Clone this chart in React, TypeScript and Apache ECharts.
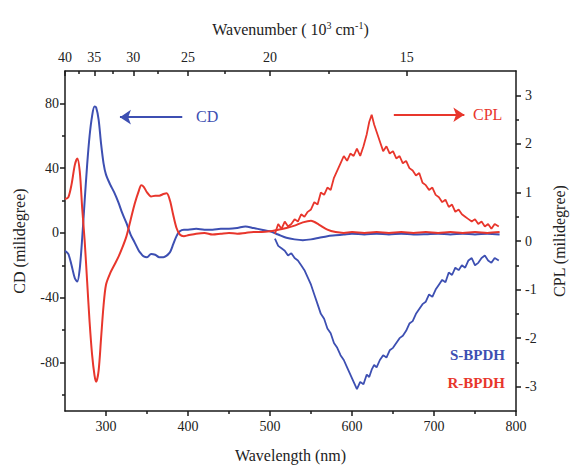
import React, { useEffect, useRef } from "react";
import * as echarts from "echarts";

// ---------- data ----------
const cdWavelength = [250,254,258,262,265,268,271,274,277,280,283,286,288,291,294,297,300,305,310,315,320,325,330,335,340,343,346,350,355,360,365,370,374,378,382,386,390,395,400,410,420,430,440,450,460,470,480,490,500,510,520,530,540,550,560,570,580,590,600,615,630,645,660,675,690,705,720,735,750,765,780];
const cdS = [-11,-13,-20,-28,-30,-22,-3,20,42,60,72,78,77.5,70,55,43,36,30,25,19,12,6,-1,-6,-11,-13,-14.5,-15,-13,-13.5,-15,-15,-14,-12,-7,-2,1,2,2,2.5,2,2,2.5,2.5,3,4,3,2,1,-1,-3,-4,-4.5,-4,-3,-2,-1.5,-1,-0.5,-1,-0.5,-1,-0.5,-1,-0.8,-0.5,-1,-0.5,-1,-0.5,-1];
const cdR = [21,22,30,42,46,38,15,-5,-30,-55,-75,-88,-92,-85,-65,-45,-32,-25,-20,-15,-9,-2,8,18,26,29.5,28.5,25,22.5,23,23,24,24.5,20,11,3,-1,-2,-1.5,-0.5,0,-1,-0.5,0,-0.5,0,0.5,0.5,1,2,3,4.5,6.5,7.5,5,2,0.5,0,0.5,0,0.5,0,0.5,0,0.5,0,0.5,0,0.5,0,0.5];

const cplWavelength = [506,510,514,518,522,526,530,534,538,542,546,550,554,558,562,566,570,574,578,582,586,590,594,598,602,606,610,614,618,621,624,627,630,634,638,642,646,650,654,658,662,666,670,674,678,682,686,690,694,698,702,706,710,714,718,722,726,730,734,738,742,746,750,754,758,762,766,770,774,779];
const cplR = [0.15,0.35,0.25,0.4,0.3,0.35,0.45,0.4,0.55,0.5,0.6,0.65,0.8,0.75,1.0,0.95,1.1,1.05,1.3,1.45,1.6,1.75,1.65,1.8,1.75,1.9,1.75,1.95,2.2,2.45,2.6,2.4,2.25,2.05,1.85,1.95,1.8,1.85,1.7,1.75,1.6,1.65,1.5,1.45,1.35,1.4,1.2,1.15,1.05,1.1,0.95,0.9,0.8,0.85,0.7,0.75,0.6,0.65,0.55,0.5,0.45,0.4,0.45,0.35,0.4,0.3,0.35,0.25,0.35,0.3];
const cplS = [0.05,-0.1,-0.15,-0.2,-0.3,-0.25,-0.35,-0.4,-0.5,-0.6,-0.75,-0.9,-1.1,-1.3,-1.5,-1.6,-1.8,-1.9,-2.1,-2.2,-2.35,-2.45,-2.6,-2.75,-2.9,-3.05,-2.9,-2.95,-2.75,-2.8,-2.65,-2.55,-2.6,-2.45,-2.35,-2.4,-2.25,-2.2,-2.1,-2.0,-1.95,-1.85,-1.7,-1.65,-1.5,-1.4,-1.3,-1.25,-1.1,-1.15,-1.0,-0.9,-0.8,-0.85,-0.65,-0.7,-0.55,-0.6,-0.5,-0.55,-0.4,-0.35,-0.5,-0.45,-0.35,-0.3,-0.4,-0.45,-0.35,-0.4];

const bottomTicks = [300, 400, 500, 600, 700, 800];
const bottomMinorTicks = [350, 450, 550, 650, 750];
const topWavenumbers = [40, 35, 30, 25, 20, 15];
const topMinorWavenumbers = [37.5, 32.5, 27.5, 22.5, 17.5];
const cdTicks = [-80, -40, 0, 40, 80];
const cdMinorTicks = [-100, -60, -20, 20, 60];
const cplTicks = [-3, -2, -1, 0, 1, 2, 3];
const cplMinorTicks = [-2.5, -1.5, -0.5, 0.5, 1.5, 2.5];

const BLUE = "#3d4fb2";
const RED = "#e8362c";
const INK = "#222";
const FONT = '"Liberation Serif", "Times New Roman", serif';

const zip = (xs: number[], ys: number[]) => xs.map((x, i) => [x, ys[i]]);
const wnToWl = (wn: number) => 10000 / wn;

export default function App() {
  const ref = useRef<HTMLDivElement>(null);
  useEffect(() => {
    if (!ref.current) return;
    const chart = echarts.init(ref.current, null, { renderer: "svg" });
    const line = { color: "#1a1a1a", width: 1.5 };
    const label = { fontFamily: FONT, fontSize: 14, color: INK };
    const nameStyle = { fontFamily: FONT, fontSize: 16, color: INK };
    const topMajor = topWavenumbers.map(wnToWl);
    const topMinor = topMinorWavenumbers.map(wnToWl);
    const xBase = { type: "value", min: 250, max: 800, splitLine: { show: false } };
    const option: any = {
      animation: false,
      backgroundColor: "#fff",
      grid: { left: 65, right: 52, top: 71, bottom: 57 },
      xAxis: [
        {
          ...xBase, position: "bottom",
          axisLine: { show: true, onZero: false, lineStyle: line },
          axisTick: { show: true, customValues: bottomTicks, length: 5, lineStyle: line },
          axisLabel: { show: true, customValues: bottomTicks, margin: 8, ...label },
          name: "Wavelength (nm)", nameLocation: "middle", nameGap: 36, nameTextStyle: nameStyle,
        },
        {
          ...xBase, position: "bottom",
          axisLine: { show: false, onZero: false },
          axisTick: { show: true, customValues: bottomMinorTicks, length: 3, lineStyle: line },
          axisLabel: { show: false },
        },
        {
          ...xBase, position: "top",
          axisLine: { show: true, onZero: false, lineStyle: line },
          axisTick: { show: true, inside: true, customValues: topMajor, length: 5, lineStyle: line },
          axisLabel: { show: true, customValues: topMajor, margin: 7, formatter: (v: number) => String(Math.round(10000 / v)), ...label },
          name: "{t|Wavenumber ( 10}{s|3}{t| cm}{s|-1}{t|)}", nameLocation: "middle", nameGap: 33,
          nameTextStyle: {
            ...nameStyle,
            rich: {
              t: { fontFamily: FONT, fontSize: 16, color: INK },
              s: { fontFamily: FONT, fontSize: 10, color: INK, verticalAlign: "top", padding: [0, 0, 8, 0] },
            },
          },
        },
        {
          ...xBase, position: "top",
          axisLine: { show: false, onZero: false },
          axisTick: { show: true, inside: true, customValues: topMinor, length: 3, lineStyle: line },
          axisLabel: { show: false },
        },
      ],
      yAxis: [
        {
          type: "value", position: "left", min: -110, max: 100, splitLine: { show: false },
          axisLine: { show: true, onZero: false, lineStyle: line },
          axisTick: { show: true, customValues: cdTicks, length: 5, lineStyle: line },
          axisLabel: { show: true, customValues: cdTicks, margin: 6, ...label },
          name: "CD (milidegree)", nameLocation: "middle", nameRotate: 90, nameGap: 38, nameTextStyle: nameStyle,
        },
        {
          type: "value", position: "right", min: -3.5, max: 3.5, splitLine: { show: false },
          axisLine: { show: true, onZero: false, lineStyle: line },
          axisTick: { show: true, customValues: cplTicks, length: 5, lineStyle: line },
          axisLabel: { show: true, customValues: cplTicks, margin: 9, ...label },
          name: "CPL (milidegree)", nameLocation: "middle", nameRotate: 90, nameGap: 35, nameTextStyle: nameStyle,
        },
        {
          type: "value", position: "left", min: -110, max: 100, splitLine: { show: false },
          axisLine: { show: false, onZero: false },
          axisTick: { show: true, customValues: cdMinorTicks, length: 3, lineStyle: line },
          axisLabel: { show: false },
        },
        {
          type: "value", position: "right", min: -3.5, max: 3.5, splitLine: { show: false },
          axisLine: { show: false, onZero: false },
          axisTick: { show: true, customValues: cplMinorTicks, length: 3, lineStyle: line },
          axisLabel: { show: false },
        },
      ],
      series: [
        {
          name: "S-BPDH CD", type: "line", xAxisIndex: 0, yAxisIndex: 0, showSymbol: false,
          smooth: 0.3, data: zip(cdWavelength, cdS), lineStyle: { color: BLUE, width: 2 }, itemStyle: { color: BLUE },
          markLine: {
            silent: true, symbol: ["none", "arrow"], symbolSize: 11, label: { show: false },
            lineStyle: { color: BLUE, width: 2, type: "solid" },
            data: [[{ coord: [393, 71.5] }, { coord: [317, 71.5] }]],
          },
        },
        {
          name: "R-BPDH CD", type: "line", xAxisIndex: 0, yAxisIndex: 0, showSymbol: false,
          smooth: 0.3, data: zip(cdWavelength, cdR), lineStyle: { color: RED, width: 2 }, itemStyle: { color: RED },
        },
        {
          name: "S-BPDH CPL", type: "line", xAxisIndex: 0, yAxisIndex: 1, showSymbol: false,
          data: zip(cplWavelength, cplS), lineStyle: { color: BLUE, width: 1.8 }, itemStyle: { color: BLUE },
        },
        {
          name: "R-BPDH CPL", type: "line", xAxisIndex: 0, yAxisIndex: 1, showSymbol: false,
          data: zip(cplWavelength, cplR), lineStyle: { color: RED, width: 1.8 }, itemStyle: { color: RED },
          markLine: {
            silent: true, symbol: ["none", "arrow"], symbolSize: 11, label: { show: false },
            lineStyle: { color: RED, width: 2, type: "solid" },
            data: [[{ coord: [651, 2.6] }, { coord: [737, 2.6] }]],
          },
        },
      ],
      graphic: [
        { type: "text", left: 196, top: 108, style: { text: "CD", fill: BLUE, font: `16px ${FONT}` } },
        { type: "text", left: 473, top: 106, style: { text: "CPL", fill: RED, font: `16px ${FONT}` } },
        { type: "text", right: 70, top: 347, style: { text: "S-BPDH", fill: BLUE, font: `bold 15px ${FONT}` } },
        { type: "text", right: 70, top: 375, style: { text: "R-BPDH", fill: RED, font: `bold 15px ${FONT}` } },
      ],
    };
    chart.setOption(option);
    return () => chart.dispose();
  }, []);
  return <div ref={ref} style={{ position: "fixed", left: 0, top: 0, width: 575, height: 468 }} />;
}
